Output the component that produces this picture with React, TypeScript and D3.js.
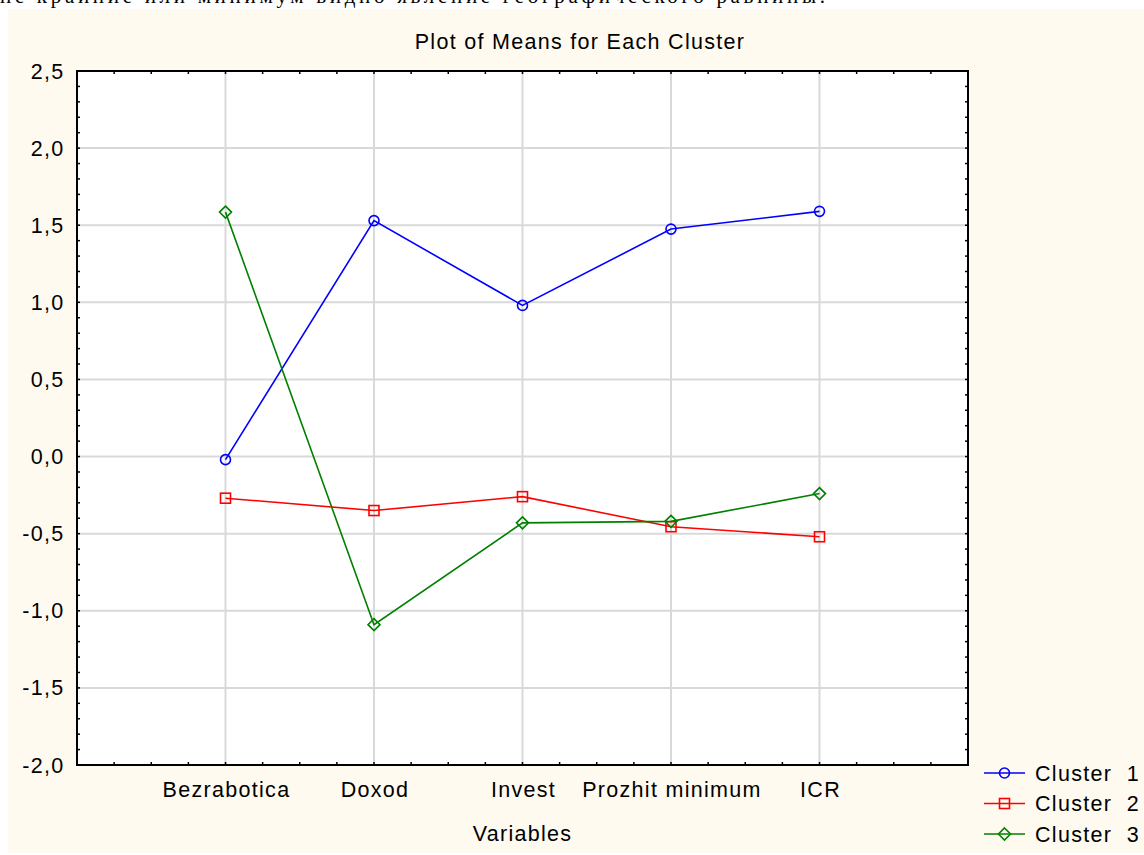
import React from "react";
import * as d3 from "d3";

const categories = ["Bezrabotica", "Doxod", "Invest", "Prozhit minimum", "ICR"];
const cluster1 = [-0.02, 1.53, 0.98, 1.475, 1.59];
const cluster2 = [-0.27, -0.35, -0.26, -0.455, -0.52];
const cluster3 = [1.585, -1.09, -0.43, -0.42, -0.24];
const seriesNames = ["Cluster  1", "Cluster  2", "Cluster  3"];
const yTicks = [2.5, 2.0, 1.5, 1.0, 0.5, 0.0, -0.5, -1.0, -1.5, -2.0];

const W = 1144, H = 855;
const L = 77, R = 968, T = 71, B = 765;
const FONT = "'Liberation Sans', Arial, sans-serif";
const FS = 21.5;
const LS = 1.3;

export default function App() {
  const x = d3.scaleLinear().domain([0, categories.length + 1]).range([L, R]);
  const y = d3.scaleLinear().domain([-2, 2.5]).range([B, T]);
  const series = [
    { name: seriesNames[0], values: cluster1, color: "#0000ff", marker: "circle" },
    { name: seriesNames[1], values: cluster2, color: "#ff0000", marker: "square" },
    { name: seriesNames[2], values: cluster3, color: "#008000", marker: "diamond" },
  ];
  const line = d3.line<number>().x((_, i) => x(i + 1)).y((v) => y(v));
  const fmt = (v: number) => v.toFixed(1).replace(".", ",").replace("-0,0", "0,0");

  const xMinor = d3.range(0, (categories.length + 1) * 4 + 1).map((k) => k / 4);
  const yMinor = d3.range(-20, 26).map((k) => k / 10);

  const marker = (kind: string, cx: number, cy: number, color: string, key: any) => {
    if (kind === "circle")
      return <circle key={key} cx={cx} cy={cy} r={5} fill="none" stroke={color} strokeWidth={1.6} />;
    if (kind === "square")
      return <rect key={key} x={cx - 5} y={cy - 5} width={10} height={10} fill="none" stroke={color} strokeWidth={1.6} />;
    return (
      <path key={key} d={`M${cx},${cy - 6}L${cx + 6},${cy}L${cx},${cy + 6}L${cx - 6},${cy}Z`} fill="none" stroke={color} strokeWidth={1.6} />
    );
  };

  return (
    <svg width={W} height={H} style={{ position: "absolute", left: 0, top: 0 }}>
      <rect x={0} y={0} width={W} height={H} fill="#ffffff" />
      <text x={0} y={3} fontFamily="'Liberation Serif', 'Times New Roman', serif" fontSize={21} textLength={825} lengthAdjust="spacing" fill="#000">
        не крайние или минимум видно явление географического равнины.
      </text>
      <rect x={8} y={9} width={W - 8} height={H - 11} fill="#fefaef" />
      <rect x={L} y={T} width={R - L} height={B - T} fill="#ffffff" />

      {/* gridlines */}
      {yTicks.map((t) => (
        <line key={"gy" + t} x1={L} x2={R} y1={y(t)} y2={y(t)} stroke="#d9d9d9" strokeWidth={2} />
      ))}
      {categories.map((c, i) => (
        <line key={"gx" + c} x1={x(i + 1)} x2={x(i + 1)} y1={T} y2={B} stroke="#d9d9d9" strokeWidth={2} />
      ))}

      {/* minor ticks */}
      {xMinor.map((v) => (
        <g key={"xm" + v}>
          <line x1={x(v)} x2={x(v)} y1={T} y2={T + 3} stroke="#000" strokeWidth={1.5} />
          <line x1={x(v)} x2={x(v)} y1={B} y2={B - 3} stroke="#000" strokeWidth={1.5} />
        </g>
      ))}
      {yMinor.map((v) => (
        <g key={"ym" + v}>
          <line x1={L} x2={L + 3} y1={y(v)} y2={y(v)} stroke="#000" strokeWidth={1.5} />
          <line x1={R} x2={R - 3} y1={y(v)} y2={y(v)} stroke="#000" strokeWidth={1.5} />
        </g>
      ))}

      <rect x={L} y={T} width={R - L} height={B - T} fill="none" stroke="#000" strokeWidth={2} />

      {/* y labels */}
      {yTicks.map((t) => (
        <text key={"yl" + t} x={64.5} y={y(t) + 7.5} textAnchor="end" fontFamily={FONT} fontSize={FS} letterSpacing={LS} fill="#000">
          {fmt(t)}
        </text>
      ))}

      {/* x labels */}
      {categories.map((c, i) => (
        <text key={"xl" + c} x={x(i + 1) + 1} y={797} textAnchor="middle" fontFamily={FONT} fontSize={FS} letterSpacing={LS} fill="#000">
          {c}
        </text>
      ))}

      <text x={(L + R) / 2} y={841} textAnchor="middle" fontFamily={FONT} fontSize={FS} letterSpacing={LS} fill="#000">
        Variables
      </text>
      <text x={(8 + W) / 2 + 4} y={49} textAnchor="middle" fontFamily={FONT} fontSize={FS} letterSpacing={LS} fill="#000">
        Plot of Means for Each Cluster
      </text>

      {/* series */}
      {series.map((s) => (
        <g key={s.name}>
          <path d={line(s.values) || ""} fill="none" stroke={s.color} strokeWidth={1.6} />
          {s.values.map((v, i) => marker(s.marker, x(i + 1), y(v), s.color, i))}
        </g>
      ))}

      {/* legend */}
      {series.map((s, i) => {
        const cy = 773 + i * 30.5;
        return (
          <g key={"lg" + s.name}>
            <line x1={984} x2={1025} y1={cy} y2={cy} stroke={s.color} strokeWidth={1.6} />
            {marker(s.marker, 1004.5, cy, s.color, "m")}
            <text x={1035} y={cy + 7.5} fontFamily={FONT} fontSize={FS} letterSpacing={LS} fill="#000" style={{ whiteSpace: "pre" }}>
              {s.name}
            </text>
          </g>
        );
      })}
    </svg>
  );
}
